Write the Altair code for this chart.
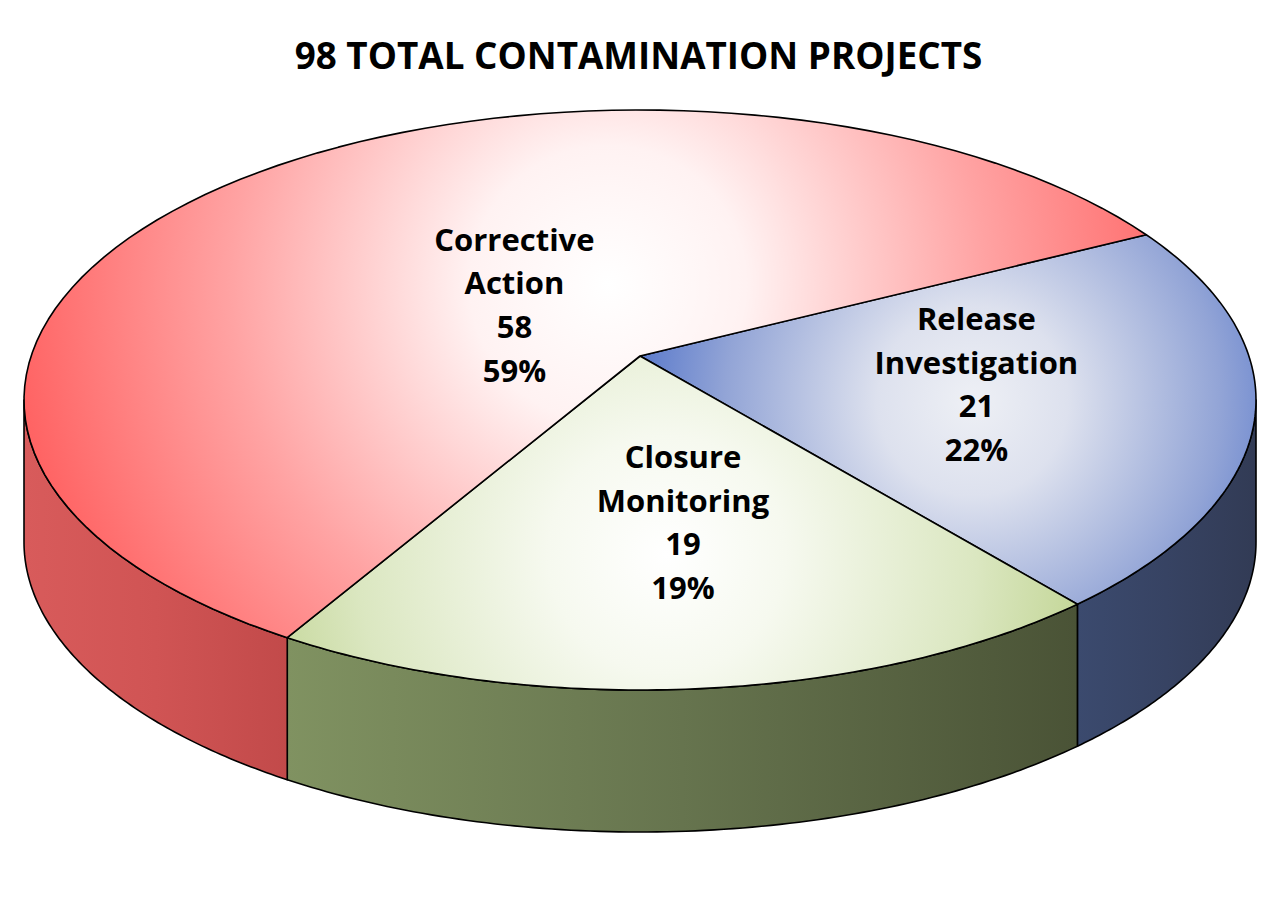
import altair as alt
import pandas as pd

# ---- data ----
categories = ["Release Investigation", "Closure Monitoring", "Corrective Action"]
projects = [21, 19, 58]
percents = [22, 19, 59]
title_text = "98 TOTAL CONTAMINATION PROJECTS"

df = pd.DataFrame({"category": categories, "projects": projects, "pct": percents})

# ---- layout (chart pixel space) ----
W, H = 1261, 807
CX, CY = 632, 312      # ellipse centre
AX, AY = 632, 268      # pie apex
RX, RY, DEPTH = 616, 290, 142
START = -26.6          # start angle (deg, clockwise from 3 o'clock)
PERSP = 9.1            # perspective warp of angles (deg)
N = 90
K = 0.57

xs = alt.Scale(domain=[0, W], nice=False, zero=False)
ys = alt.Scale(domain=[0, H], nice=False, zero=False, reverse=True)


def rgrad(fx, fy, r, stops):
    return {"gradient": "radial", "x1": fx, "y1": fy, "r1": 0, "x2": fx, "y2": fy, "r2": r,
            "stops": [{"offset": o, "color": c} for o, c in stops]}


def lgrad(c0, c1, c2):
    return {"gradient": "linear", "x1": 0, "y1": 0, "x2": 1, "y2": 0,
            "stops": [{"offset": 0, "color": c0}, {"offset": 0.5, "color": c1}, {"offset": 1, "color": c2}]}


top_fill = {
    "Corrective Action": rgrad(0.52, 0.42, 0.56, [(0, "#ffffff"), (0.22, "#fff2f2"),
                                                  (0.6, "#ffa3a3"), (1, "#ff5a5a")]),
    "Release Investigation": rgrad(0.54, 0.47, 0.62, [(0, "#eef0f5"), (0.25, "#dde1ee"),
                                                      (0.65, "#92a4d6"), (1, "#3f65c6")]),
    "Closure Monitoring": rgrad(0.48, 0.54, 0.6, [(0, "#ffffff"), (0.25, "#f6f9ef"),
                                                  (0.65, "#dbe7c1"), (1, "#b8ce83")]),
}
side_fill = {
    "Corrective Action": lgrad("#d85b5b", "#d05454", "#c24a4a"),
    "Release Investigation": lgrad("#3b4a6e", "#374363", "#323b55"),
    "Closure Monitoring": lgrad("#809261", "#66744e", "#4a5336"),
}

base = (
    alt.Chart(df)
    .transform_joinaggregate(total="sum(projects)")
    .transform_window(cum="sum(projects)", frame=[None, 0])
    .transform_calculate(
        ts=f"{START} + 360 * (datum.cum - datum.projects) / datum.total",
        te=f"{START} + 360 * datum.cum / datum.total",
    )
    .transform_calculate(
        s=f"datum.ts - {PERSP} * cos(datum.ts * PI / 180)",
        e=f"datum.te - {PERSP} * cos(datum.te * PI / 180)",
    )
)

enc = dict(
    x=alt.X("px:Q", scale=xs, axis=None),
    y=alt.Y("py:Q", scale=ys, axis=None),
    order=alt.Order("ks:Q"),
)


def top(cat):
    return (
        base.transform_filter(alt.datum.category == cat)
        .transform_calculate(ks=f"sequence(0, {N + 2})")
        .transform_flatten(["ks"])
        .transform_calculate(phi=f"(datum.s + (datum.e - datum.s) * (datum.ks - 1) / {N}) * PI / 180")
        .transform_calculate(
            px=f"datum.ks == 0 ? {AX} : {CX} + {RX} * cos(datum.phi)",
            py=f"datum.ks == 0 ? {AY} : {CY} + {RY} * sin(datum.phi)",
        )
        .mark_line(interpolate="linear-closed", fill=top_fill[cat], stroke="black",
                   strokeWidth=1.6, strokeJoin="round")
        .encode(**enc)
    )


def side(cat):
    return (
        base.transform_filter(alt.datum.category == cat)
        .transform_calculate(s2="max(datum.s, 0)", e2="min(datum.e, 180)")
        .transform_filter("datum.e2 > datum.s2")
        .transform_calculate(ks=f"sequence(0, {2 * N + 2})")
        .transform_flatten(["ks"])
        .transform_calculate(t=f"datum.ks <= {N} ? datum.ks / {N} : ({2 * N + 1} - datum.ks) / {N}")
        .transform_calculate(phi="(datum.s2 + (datum.e2 - datum.s2) * datum.t) * PI / 180")
        .transform_calculate(
            px=f"{CX} + {RX} * cos(datum.phi)",
            py=f"{CY} + {RY} * sin(datum.phi) + (datum.ks > {N} ? {DEPTH} : 0)",
        )
        .mark_line(interpolate="linear-closed", fill=side_fill[cat], stroke="black",
                   strokeWidth=1.6, strokeJoin="round")
        .encode(**enc)
    )


LINE_H = 43.6
labels = (
    base.transform_calculate(sr="datum.s * PI / 180", er="datum.e * PI / 180")
    .transform_calculate(
        mc="(sin(datum.er) - sin(datum.sr)) / (datum.er - datum.sr)",
        ms="(cos(datum.sr) - cos(datum.er)) / (datum.er - datum.sr)",
    )
    .transform_calculate(
        lx=f"{AX} + {K} * ({CX} + {RX} * datum.mc - {AX})",
        ly=f"{AY} + {K} * ({CY} + {RY} * datum.ms - {AY})",
        lab="replace(datum.category, ' ', '\\n') + '\\n' + datum.projects + '\\n' + datum.pct + '%'",
    )
    .mark_text(font="Open Sans", fontSize=31, fontWeight="bold", color="black",
               lineBreak="\n", lineHeight=LINE_H, align="center", baseline="middle",
               dx=14, dy=-1.5 * LINE_H - 8)
    .encode(x=alt.X("lx:Q", scale=xs, axis=None), y=alt.Y("ly:Q", scale=ys, axis=None), text="lab:N")
)

chart = (
    alt.layer(*[side(c) for c in categories], *[top(c) for c in categories], labels)
    .properties(
        width=W,
        height=H,
        title=alt.TitleParams(text=title_text, font="Open Sans", fontSize=36.8, fontWeight="bold",
                              color="black", anchor="middle", offset=11),
        padding={"left": 0, "top": 80, "right": 0, "bottom": 0},
        autosize="none",
        background="white",
    )
    .configure_view(stroke=None)
)

chart.save("out.html", embed_options={"renderer": "svg", "actions": False})
